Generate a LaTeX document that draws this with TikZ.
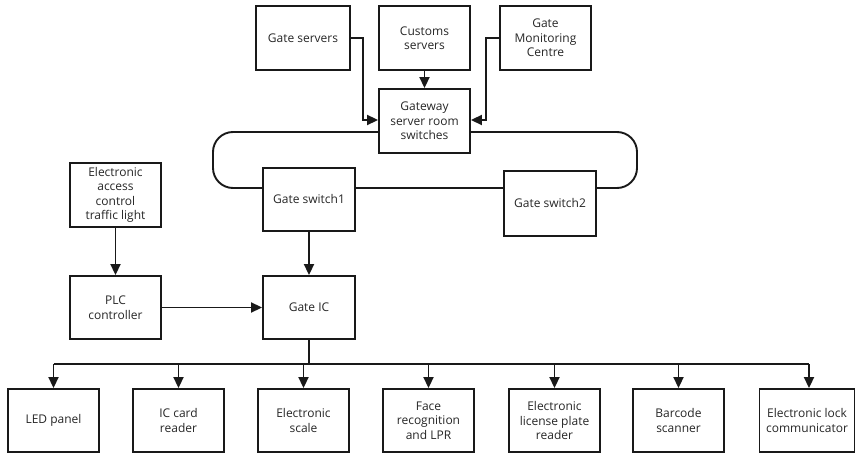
\documentclass[tikz,border=0pt]{standalone}
\usepackage{fontspec}
\setmainfont{Open Sans}
\usetikzlibrary{arrows.meta}
\tikzset{
  box/.style={draw=black!90, line width=1.9pt, minimum width=91pt, minimum height=64pt,
    inner sep=2pt, align=center, font=\fontsize{12}{14.5}\selectfont, text=black!85},
  wire/.style={draw=black!90, line width=1.9pt},
  arr/.style={wire, -{Triangle[length=11pt,width=10pt]}},
}
\begin{document}
\begin{tikzpicture}[x=1pt,y=-1pt]
\useasboundingbox (0,0) rectangle (856,454);
% top row
\node[box, minimum width=94pt] (gs) at (303,38) {Gate servers};
\node[box] (cs) at (424.5,38) {Customs\\servers};
\node[box] (gmc) at (545.5,38) {Gate\\Monitoring\\Centre};
\node[box] (gw) at (424.5,121) {Gateway\\server room\\switches};
% switches
\node[box, minimum width=92pt, minimum height=63pt] (sw1) at (309,199.5) {Gate switch1};
\node[box, minimum width=92pt, minimum height=65pt] (sw2) at (550,203.5) {Gate switch2};
% left
\node[box] (eac) at (115.5,195) {Electronic\\access\\control\\traffic light};
\node[box, minimum height=63pt] (plc) at (115.5,307.5) {PLC\\controller};
\node[box, minimum width=92pt, minimum height=63pt] (ic) at (309,307.5) {Gate IC};
% bottom row
\node[box, minimum height=63pt] (led) at (53.5,420.5) {LED panel};
\node[box, minimum height=63pt] (card) at (178.5,420.5) {IC card\\reader};
\node[box, minimum height=63pt] (scale) at (303.5,420.5) {Electronic\\scale};
\node[box, minimum height=63pt] (face) at (428.5,420.5) {Face\\recognition\\and LPR};
\node[box, minimum height=63pt] (lpr) at (554.5,420.5) {Electronic\\license plate\\reader};
\node[box, minimum height=63pt] (bar) at (678.5,420.5) {Barcode\\scanner};
\node[box, minimum width=95pt, minimum height=63pt] (lock) at (807,420.5) {Electronic lock\\communicator};
% top connectors
\draw[arr] (gs.east) -| ([xshift=-15pt,yshift=1pt]gw.west) -- ([yshift=1pt]gw.west);
\draw[arr] (cs) -- (gw);
\draw[arr] (gmc.west) -| ([xshift=15pt,yshift=1pt]gw.east) -- ([yshift=1pt]gw.east);
% ring
\coordinate (tl) at (213,132);
\coordinate (bl) at (213,188);
\coordinate (tr) at (637,132);
\coordinate (br) at (637,188);
\draw[wire, rounded corners=20pt] (gw.west |- tl) -- (tl) -- (bl) -- (sw1.west |- bl);
\draw[wire] (sw1.east |- bl) -- (sw2.west |- bl);
\draw[wire, rounded corners=20pt] (sw2.east |- br) -- (br) -- (tr) -- (gw.east |- tr);
% middle connectors
\draw[arr] (eac) -- (plc);
\draw[arr] (sw1) -- (ic);
\draw[arr] (plc) -- (ic);
% bus
\coordinate (bus) at (0,364);
\draw[wire] (ic.south) -- (ic.south |- bus);
\draw[wire] (led.north |- bus) -- ([xshift=2pt]lock.north |- bus);
\foreach \n in {led,card,scale,face,lpr,bar}{
  \draw[arr] (\n.north |- bus) -- (\n.north);
}
\draw[arr] ([xshift=2pt]lock.north |- bus) -- ([xshift=2pt]lock.north);
\end{tikzpicture}
\end{document}
